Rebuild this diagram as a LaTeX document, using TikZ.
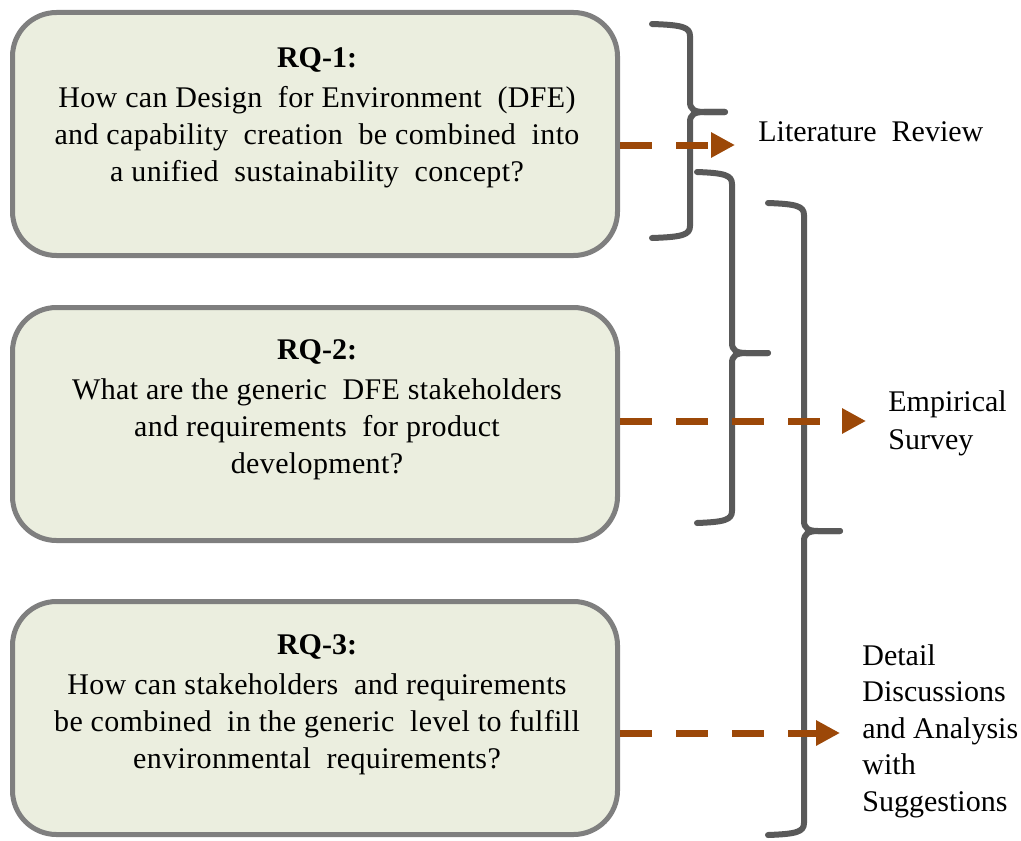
\documentclass[tikz,border=0pt]{standalone}
\usepackage{fontspec}
\setmainfont{Liberation Serif}
\usetikzlibrary{arrows.meta}
\definecolor{boxfill}{RGB}{235,238,223}
\definecolor{boxline}{RGB}{127,127,127}
\definecolor{bracegray}{RGB}{89,89,89}
\definecolor{arrowbrown}{RGB}{156,72,8}
% right-facing curly brace: left end x, spine x, top y, bottom y, tip y, tip x
\newcommand\rightbrace[6]{%
  \draw[brace] (#1,#3) .. controls (#2-8,#3+1) and (#2,#3+3) .. (#2,#3+12)
    -- (#2,#5-10) .. controls (#2,#5-3) and (#2+4,#5) .. (#2+14,#5) -- (#6,#5);
  \draw[brace] (#6,#5) -- (#2+14,#5) .. controls (#2+4,#5) and (#2,#5+3) .. (#2,#5+10)
    -- (#2,#4-12) .. controls (#2,#4-3) and (#2-8,#4-1) .. (#1,#4);
}
\newcommand\qtitle[1]{{\addfontfeature{LetterSpace=0}\textbf{#1}}}
\begin{document}
\begin{tikzpicture}[x=0.5pt,y=-0.5pt,
  rqbox/.style={draw=boxline,line width=2.5pt,fill=boxfill,rounded corners=22pt,
    minimum width=302.5pt,inner sep=0pt},
  qtext/.style={align=center,inner sep=0pt,
    font=\fontsize{15}{18.5}\selectfont\addfontfeature{LetterSpace=1.2}},
  side/.style={align=left,anchor=west,inner sep=0pt},
  brace/.style={draw=bracegray,line width=3pt,line cap=round,line join=round},
  flow/.style={draw=arrowbrown,line width=3.5pt,dash pattern=on 16pt off 12pt,
    -{Triangle[length=12pt,width=12pt]}},
]
\useasboundingbox (0,0) rectangle (1021,840);

% question boxes
\node[rqbox,minimum height=121.5pt] (b1) at (315,134) {};
\node[rqbox,minimum height=116.5pt] (b2) at (315,424) {};
\node[rqbox,minimum height=116.5pt] (b3) at (315,718) {};

\node[qtext] (q1) at (317,118) {\qtitle{RQ-1:}\\[1.5pt]
  How can Design\ \ for Environment\ \ (DFE)\\
  and capability\ \ creation\ \ be combined\ \ into\\
  a unified\ \ sustainability\ \ concept?};
\node[qtext] (q2) at (317,410) {\qtitle{RQ-2:}\\[1.5pt]
  What are the generic\ \ DFE stakeholders\\
  and requirements\ \ for product\\
  development?};
\node[qtext] (q3) at (317,705) {\qtitle{RQ-3:}\\[1.5pt]
  How can stakeholders\ \ and requirements\\
  be combined\ \ in the generic\ \ level to fulfill\\
  environmental\ \ requirements?};

% method labels
\node[side,font=\fontsize{15}{18.5}\selectfont] (lit) at (758,132) {Literature\ \ Review};
\node[side,font=\fontsize{15}{19}\selectfont] (emp) at (888,423) {Empirical\\Survey};
\node[side,font=\fontsize{15}{18.25}\selectfont] (det) at (862,731)
  {Detail\\Discussions\\and Analysis\\with\\Suggestions};

% braces grouping the questions
\rightbrace{652}{690}{24}{238}{112}{725}
\rightbrace{697}{732}{172}{523}{353}{768}
\rightbrace{768}{804}{203}{835}{531}{840}

% arrows from questions to methods
\coordinate (a1) at (735,145);
\coordinate (a2) at (866,421);
\coordinate (a3) at (840,733);
\draw[flow] (b1.east |- a1) -- (a1);
\draw[flow] (b2.east |- a2) -- (a2);
\draw[flow] (b3.east |- a3) -- (a3);
\end{tikzpicture}
\end{document}
